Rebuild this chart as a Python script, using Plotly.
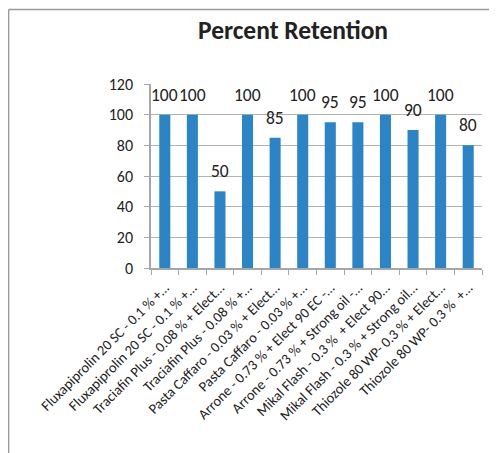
import plotly.graph_objects as go

categories = [
    "Fluxapiprolin 20 SC - 0.1 % +…",
    "Fluxapiprolin 20 SC - 0.1 % +…",
    "Traciafin Plus - 0.08 % + Elect…",
    "Traciafin Plus - 0.08 % +…",
    "Pasta Caffaro - 0.03 % + Elect…",
    "Pasta Caffaro - 0.03 % +…",
    "Arrone - 0.73 % + Elect 90 EC -…",
    "Arrone - 0.73 % + Strong oil -…",
    "Mikal Flash - 0.3 %  + Elect 90…",
    "Mikal Flash - 0.3 % + Strong oil…",
    "Thiozole 80 WP- 0.3 % + Elect…",
    "Thiozole 80 WP- 0.3 %  +…",
]
retention = [100, 100, 50, 100, 85, 100, 95, 95, 100, 90, 100, 80]
y_ticks = [0, 20, 40, 60, 80, 100, 120]

x = list(range(len(categories)))
FONT = "Carlito, Lato, sans-serif"
TXT = "#222222"

fig = go.Figure()
fig.add_trace(go.Bar(
    x=x, y=retention, width=0.4,
    marker=dict(color="#2A84C6", line=dict(width=0)),
    hoverinfo="skip",
))

for xi, v in zip(x, retention):
    fig.add_annotation(x=xi, y=v, text=str(v), showarrow=False,
                       yshift=20, font=dict(family=FONT, size=17.5, color=TXT))

# the page has an 8px body margin; figure pixels = reference pixels - 8
OFF = 8
W, H = 497 - OFF, 453 - OFF
L, T = 151 - OFF, 84 - OFF
R = W - (482 - OFF)
B = H - (268 - OFF)
pw, ph = W - L - R, H - T - B

def px_x(p):
    return (p - OFF - L) / pw

def px_y(p):
    return (H - B - (p - OFF)) / ph

fig.add_shape(type="line", xref="paper", yref="paper",
              x0=px_x(8.6), x1=px_x(520), y0=px_y(9.5), y1=px_y(9.5),
              line=dict(color="#9a9a9a", width=1.5), layer="above")
fig.add_shape(type="line", xref="paper", yref="paper",
              x0=px_x(8.6), x1=px_x(8.6), y0=px_y(9.5), y1=px_y(480),
              line=dict(color="#9a9a9a", width=1.5), layer="above")

fig.add_annotation(xref="paper", yref="paper", x=px_x(293), y=px_y(31),
                   text="<b>Percent Retention</b>", showarrow=False,
                   xanchor="center", yanchor="middle",
                   font=dict(family=FONT, size=25.5, color=TXT))

fig.update_layout(
    width=W, height=H,
    margin=dict(l=L, r=R, t=T, b=B, pad=0, autoexpand=False),
    paper_bgcolor="white", plot_bgcolor="white",
    showlegend=False,
    font=dict(family=FONT, color=TXT),
    xaxis=dict(
        automargin=False,
        range=[-0.5, len(categories) - 0.5],
        tickmode="array", tickvals=x, ticktext=categories,
        tickangle=-45, tickfont=dict(family=FONT, size=14.4, color=TXT),
        ticks="", showgrid=False, zeroline=False,
        showline=True, linecolor="#a6a6a6", linewidth=1.5,
        ticklabelstandoff=4,
        minor=dict(tickmode="array", tickvals=[i - 0.5 for i in range(len(categories) + 1)],
                   ticks="outside", ticklen=5, tickcolor="#a6a6a6", tickwidth=1.2, showgrid=False),
        fixedrange=True,
    ),
    yaxis=dict(
        automargin=False,
        range=[0, 120], tickmode="array", tickvals=y_ticks,
        tickfont=dict(family=FONT, size=16, color=TXT),
        ticks="outside", ticklen=5, tickcolor="#a6a6a6", tickwidth=1.2,
        ticklabelstandoff=8,
        showgrid=True, gridcolor="#b3b3b3", gridwidth=1.2,
        zeroline=False, showline=True, linecolor="#a6a6a6", linewidth=1.5,
        fixedrange=True,
    ),
)

fig.write_html("out.html")
